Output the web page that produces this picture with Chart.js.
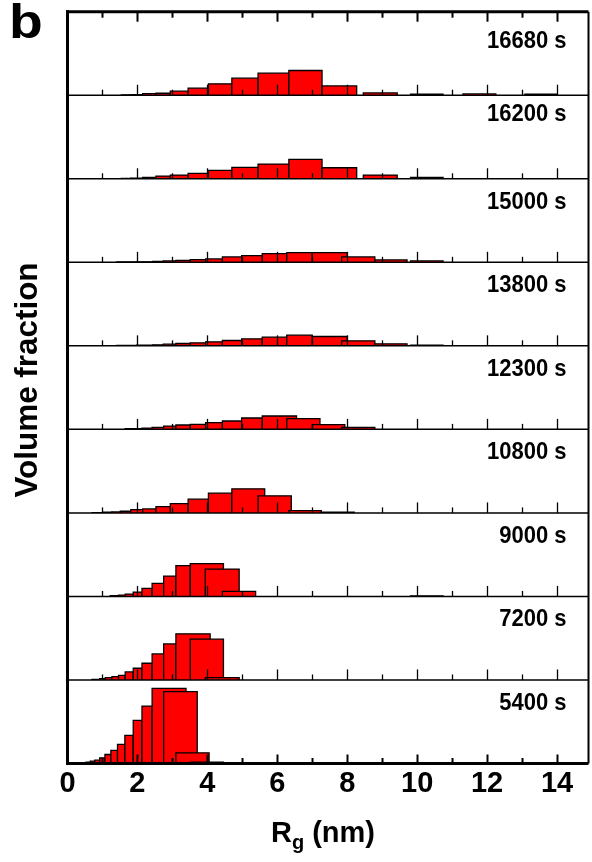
<!DOCTYPE html>
<html>
<head>
<meta charset="utf-8">
<script src="https://cdn.jsdelivr.net/npm/chart.js@4/dist/chart.umd.min.js"></script>
<style>
  html, body { margin: 0; padding: 0; background: #fff; }
  #wrap { position: relative; width: 592px; height: 862px; }
</style>
</head>
<body>
<div id="wrap"><canvas id="c" width="592" height="862"></canvas></div>
<script>
// Size distributions of Rg at successive annealing times (top panel = latest time).
// Each bar: bin from lo to hi (nm), height = volume fraction.
const timeLabels = ['16680 s', '16200 s', '15000 s', '13800 s', '12300 s', '10800 s', '9000 s', '7200 s', '5400 s'];

const lo16680 = [1.54, 1.81, 2.15, 2.53, 2.94, 3.45, 4.03, 4.70, 5.45, 6.33, 7.28, 8.46, 9.81, 11.31, 13.08];
const hi16680 = [1.81, 2.15, 2.53, 2.94, 3.45, 4.03, 4.70, 5.45, 6.33, 7.28, 8.27, 9.43, 10.74, 12.25, 13.98];
const vf16680 = [0.001, 0.002, 0.005, 0.006, 0.012, 0.021, 0.034, 0.051, 0.066, 0.074, 0.028, 0.007, 0.003, 0.004, 0.003];

const lo16200 = [1.54, 1.81, 2.15, 2.53, 2.94, 3.45, 4.03, 4.70, 5.45, 6.33, 7.28, 8.46, 9.81];
const hi16200 = [1.81, 2.15, 2.53, 2.94, 3.45, 4.03, 4.70, 5.45, 6.33, 7.28, 8.27, 9.43, 10.74];
const vf16200 = [0.001, 0.002, 0.004, 0.008, 0.011, 0.016, 0.025, 0.034, 0.044, 0.058, 0.033, 0.011, 0.004];

const lo15000 = [1.41, 1.98, 2.44, 2.74, 3.10, 3.51, 3.95, 4.43, 4.98, 5.57, 6.27, 7.00, 7.84, 8.79, 9.81];
const hi15000 = [1.98, 2.44, 2.74, 3.10, 3.51, 3.95, 4.43, 4.98, 5.57, 6.27, 7.00, 8.00, 8.79, 9.71, 10.74];
const vf15000 = [0.001, 0.0015, 0.003, 0.004, 0.006, 0.008, 0.010, 0.016, 0.020, 0.026, 0.029, 0.029, 0.016, 0.007, 0.004];

const lo13800 = [1.41, 1.98, 2.44, 2.74, 3.10, 3.51, 3.95, 4.43, 4.98, 5.57, 6.27, 7.00, 7.84, 8.79, 9.81];
const hi13800 = [1.98, 2.44, 2.74, 3.10, 3.51, 3.95, 4.43, 4.98, 5.57, 6.27, 7.00, 8.00, 8.79, 9.71, 10.74];
const vf13800 = [0.001, 0.002, 0.003, 0.005, 0.007, 0.009, 0.012, 0.016, 0.021, 0.026, 0.032, 0.028, 0.015, 0.006, 0.002];

const lo12300 = [1.65, 2.13, 2.42, 2.75, 3.10, 3.51, 3.95, 4.43, 4.98, 5.57, 6.27, 7.00, 7.84];
const hi12300 = [2.13, 2.42, 2.75, 3.10, 3.51, 3.95, 4.43, 4.98, 5.57, 6.55, 7.22, 7.93, 8.79];
const vf12300 = [0.002, 0.004, 0.006, 0.010, 0.013, 0.015, 0.020, 0.025, 0.034, 0.040, 0.032, 0.014, 0.006];

const lo10800 = [0.70, 1.03, 1.27, 1.51, 1.81, 2.15, 2.53, 2.94, 3.45, 4.03, 4.70, 5.45, 6.33, 7.26];
const hi10800 = [1.03, 1.27, 1.51, 1.81, 2.15, 2.53, 2.94, 3.45, 4.03, 4.70, 5.64, 6.40, 7.26, 8.20];
const vf10800 = [0.001, 0.002, 0.003, 0.005, 0.010, 0.012, 0.019, 0.028, 0.041, 0.059, 0.072, 0.051, 0.007, 0.002];

const lo9000 = [1.22, 1.46, 1.65, 1.88, 2.13, 2.42, 2.75, 3.10, 3.51, 3.94, 4.43, 9.81];
const hi9000 = [1.46, 1.65, 1.88, 2.13, 2.42, 2.75, 3.10, 3.51, 4.46, 4.91, 5.38, 10.74];
const vf9000 = [0.002, 0.004, 0.007, 0.013, 0.024, 0.039, 0.061, 0.092, 0.098, 0.082, 0.015, 0.0015];

const lo7200 = [0.70, 0.92, 1.08, 1.27, 1.46, 1.65, 1.88, 2.13, 2.42, 2.75, 3.10, 3.51, 3.94];
const hi7200 = [0.92, 1.08, 1.27, 1.46, 1.65, 1.88, 2.13, 2.42, 2.75, 3.10, 4.08, 4.46, 4.91];
const vf7200 = [0.002, 0.004, 0.007, 0.010, 0.014, 0.024, 0.035, 0.050, 0.078, 0.108, 0.138, 0.122, 0.007];

const lo5400 = [0.38, 0.53, 0.65, 0.78, 0.92, 1.07, 1.24, 1.43, 1.64, 1.88, 2.13, 2.42, 2.75, 3.10, 3.51, 3.94, 4.43, 4.91, 5.38, 5.86];
const hi5400 = [0.53, 0.65, 0.78, 0.92, 1.07, 1.24, 1.43, 1.64, 1.88, 2.13, 2.42, 3.39, 3.71, 4.05, 4.46, 4.91, 5.38, 5.86, 6.34, 6.82];
const vf5400 = [0.001, 0.004, 0.007, 0.010, 0.017, 0.027, 0.039, 0.057, 0.084, 0.129, 0.172, 0.225, 0.215, 0.032, 0.004, 0.002, 0.001, 0.0006, 0.0006, 0.0006];

const panels = [
  { lo: lo16680, hi: hi16680, vf: vf16680 },
  { lo: lo16200, hi: hi16200, vf: vf16200 },
  { lo: lo15000, hi: hi15000, vf: vf15000 },
  { lo: lo13800, hi: hi13800, vf: vf13800 },
  { lo: lo12300, hi: hi12300, vf: vf12300 },
  { lo: lo10800, hi: hi10800, vf: vf10800 },
  { lo: lo9000, hi: hi9000, vf: vf9000 },
  { lo: lo7200, hi: hi7200, vf: vf7200 },
  { lo: lo5400, hi: hi5400, vf: vf5400 }
];

const VF_MAX = 0.25;
const FONT = '"Liberation Sans", Arial, Helvetica, sans-serif';
// small vertical shifts of the time captions inside their panels
const captionShift = [6, -4, 0, 0, 0, 0, 0, 0, 0];

// One filled outline per bar; later bins are drawn over earlier ones.
const datasets = [];
panels.forEach((p, k) => {
  p.lo.forEach((x0, i) => {
    const x1 = p.hi[i], h = p.vf[i];
    datasets.push({
      label: timeLabels[k] + ' #' + i,
      yAxisID: 'y' + k,
      data: [{ x: x0, y: 0 }, { x: x0, y: h }, { x: x1, y: h }, { x: x1, y: 0 }],
      fill: 'origin',
      backgroundColor: '#ff0000',
      borderColor: '#000000',
      borderWidth: 1.3,
      borderJoinStyle: 'miter',
      pointRadius: 0,
      pointHoverRadius: 0,
      tension: 0,
      order: -i
    });
  });
});

const scales = {
  x: {
    type: 'linear',
    min: 0,
    max: 14.9,
    position: 'bottom',
    grid: { display: false, drawTicks: false },
    border: { display: false },
    ticks: {
      stepSize: 2,
      includeBounds: false,
      padding: 3,
      color: '#000',
      font: { family: FONT, size: 29, weight: 'bold' },
      maxRotation: 0
    },
    afterFit(scale) { scale.height = 98.5; }
  }
};
panels.forEach((p, k) => {
  scales['y' + k] = {
    type: 'linear',
    position: 'left',
    stack: 'panels',
    stackWeight: 1,
    weight: panels.length - k,
    min: 0,
    max: VF_MAX,
    display: false
  };
});

// Frame, inward ticks, panel captions and axis titles
const framePlugin = {
  id: 'frame',
  afterDatasetsDraw(chart) {
    const { ctx, chartArea: a } = chart;
    const xs = chart.scales.x;
    const tickVals = [];
    for (let v = 1; v <= 14; v++) tickVals.push(v);
    const last = panels.length - 1;
    ctx.save();
    ctx.strokeStyle = '#000';
    ctx.lineCap = 'butt';

    panels.forEach((p, k) => {
      const ys = chart.scales['y' + k];
      const yb = ys.getPixelForValue(0);
      ctx.lineWidth = k === last ? 3 : 1.5;
      ctx.beginPath();
      ctx.moveTo(a.left, yb);
      ctx.lineTo(a.right, yb);
      ctx.stroke();
      ctx.lineWidth = k === last ? 2 : 1.3;
      tickVals.forEach(v => {
        const px = Math.round(xs.getPixelForValue(v)) + 0.5;
        const len = v % 2 === 0 ? (k === last ? 9 : 10.5) : 5.5;
        ctx.beginPath();
        ctx.moveTo(px, yb);
        ctx.lineTo(px, yb - len);
        ctx.stroke();
      });
    });

    // top border with downward ticks
    ctx.lineWidth = 3;
    ctx.beginPath();
    ctx.moveTo(a.left - 1.5, a.top);
    ctx.lineTo(a.right, a.top);
    ctx.stroke();
    ctx.lineWidth = 2;
    tickVals.forEach(v => {
      const px = Math.round(xs.getPixelForValue(v)) + 0.5;
      const len = v % 2 === 0 ? 10 : 6;
      ctx.beginPath();
      ctx.moveTo(px, a.top);
      ctx.lineTo(px, a.top + len);
      ctx.stroke();
    });

    // left and right borders
    ctx.lineWidth = 3;
    ctx.beginPath();
    ctx.moveTo(a.left, a.top - 1.5);
    ctx.lineTo(a.left, a.bottom + 1.5);
    ctx.stroke();
    ctx.lineWidth = 2;
    ctx.beginPath();
    ctx.moveTo(a.right, a.top);
    ctx.lineTo(a.right, a.bottom);
    ctx.stroke();

    // time captions
    ctx.fillStyle = '#000';
    ctx.textAlign = 'right';
    ctx.textBaseline = 'alphabetic';
    ctx.font = 'bold 22px ' + FONT;
    panels.forEach((p, k) => {
      const ys = chart.scales['y' + k];
      ctx.save();
      ctx.translate(a.right - 22, ys.top + 30 + captionShift[k]);
      ctx.scale(1, 1.12);
      ctx.fillText(timeLabels[k], 0, 0);
      ctx.restore();
    });

    // x-axis title: R_g (nm)
    const cx = (a.left + a.right) / 2 - 5;
    const by = 842;
    ctx.textAlign = 'left';
    ctx.font = 'bold 29px ' + FONT;
    const wR = ctx.measureText('R').width;
    const wRest = ctx.measureText(' (nm)').width;
    ctx.font = 'bold 20px ' + FONT;
    const wg = ctx.measureText('g').width;
    const x0 = cx - (wR + wg + wRest) / 2;
    ctx.font = 'bold 29px ' + FONT;
    ctx.fillText('R', x0, by);
    ctx.fillText(' (nm)', x0 + wR + wg, by);
    ctx.font = 'bold 20px ' + FONT;
    ctx.fillText('g', x0 + wR, by + 7);

    // y-axis title, fitted to its length along the axis
    ctx.save();
    ctx.translate(37, 380);
    ctx.rotate(-Math.PI / 2);
    ctx.textAlign = 'center';
    ctx.font = 'bold 31px ' + FONT;
    const wt = ctx.measureText('Volume fraction').width;
    ctx.scale(235 / wt, 1);
    ctx.fillText('Volume fraction', 0, 0);
    ctx.restore();

    // panel letter
    ctx.save();
    ctx.translate(9, 38);
    ctx.scale(1.15, 1);
    ctx.textAlign = 'left';
    ctx.font = 'bold 48px ' + FONT;
    ctx.fillText('b', 0, 0);
    ctx.restore();
    ctx.restore();
  }
};

new Chart(document.getElementById('c'), {
  type: 'line',
  data: { datasets },
  options: {
    responsive: false,
    animation: false,
    events: [],
    layout: { padding: { left: 67.5, right: 3.5, top: 11.7, bottom: 0 } },
    plugins: { legend: { display: false }, tooltip: { enabled: false }, filler: { drawTime: 'beforeDatasetDraw' } },
    scales
  },
  plugins: [framePlugin]
});
</script>
</body>
</html>
